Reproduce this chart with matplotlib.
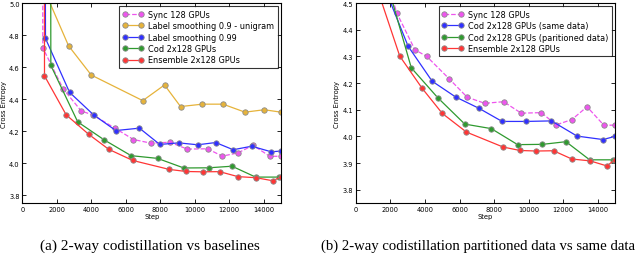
import matplotlib
matplotlib.use("Agg")
import matplotlib.pyplot as plt

# series (first point of each is the off-chart start)
sync_steps = [1150, 1184, 2368, 3417, 4100, 5400, 6440, 7460, 8550, 9570, 10740, 11590, 12500, 13380, 14350, 15000]
sync_ce = [7.0, 4.72, 4.463, 4.325, 4.300, 4.216, 4.147, 4.124, 4.130, 4.087, 4.089, 4.043, 4.063, 4.111, 4.042, 4.042]

ls99_steps = [1300, 1339, 2735, 4130, 5420, 6790, 7971, 9060, 10170, 11212, 12230, 13300, 14440, 15000]
ls99_ce = [7.0, 4.779, 4.442, 4.301, 4.203, 4.218, 4.116, 4.126, 4.114, 4.128, 4.083, 4.105, 4.070, 4.075]

uni_steps = [1200, 2677, 3996, 6983, 8244, 9175, 10438, 11637, 12910, 14030, 15000]
uni_ce = [5.1, 4.733, 4.550, 4.390, 4.488, 4.353, 4.368, 4.368, 4.318, 4.333, 4.318]

cod_steps = [1620, 1650, 3210, 4740, 6305, 7840, 9360, 10800, 12160, 13530, 14900]
cod_ce = [7.0, 4.61, 4.257, 4.145, 4.046, 4.029, 3.969, 3.970, 3.980, 3.912, 3.912]

ens_steps = [1270, 1282, 2541, 3840, 5004, 6401, 8520, 9500, 10450, 11440, 12500, 13560, 14530, 15000]
ens_ce = [7.0, 4.545, 4.301, 4.180, 4.086, 4.016, 3.960, 3.947, 3.945, 3.946, 3.915, 3.908, 3.889, 3.913]

same_steps = [1400, 3026, 4414, 5768, 7133, 8464, 9835, 11321, 12802, 14306, 15000]
same_ce = [4.6, 4.338, 4.207, 4.148, 4.105, 4.056, 4.056, 4.058, 4.001, 3.988, 4.000]

c_sync = '#ee55ee'
c_uni = '#e6b33a'
c_blue = '#3030ff'
c_green = '#2f9a2f'
c_red = '#ff3535'

mk = dict(marker='o', markersize=3.9, markeredgecolor='0.55', markeredgewidth=0.6, linewidth=0.9)

fig = plt.figure(figsize=(6.4, 2.55), dpi=100)
ax1 = fig.add_axes([0.035, 0.2, 0.404, 0.784])
ax2 = fig.add_axes([0.556, 0.2, 0.405, 0.784])

ax1.plot(sync_steps, sync_ce, '--', color=c_sync, markerfacecolor=c_sync, label='Sync 128 GPUs', **mk)
ax1.plot(uni_steps, uni_ce, '-', color=c_uni, markerfacecolor=c_uni, label='Label smoothing 0.9 - unigram', **mk)
ax1.plot(ls99_steps, ls99_ce, '-', color=c_blue, markerfacecolor=c_blue, label='Label smoothing 0.99', **mk)
ax1.plot(cod_steps, cod_ce, '-', color=c_green, markerfacecolor=c_green, label='Cod 2x128 GPUs', **mk)
ax1.plot(ens_steps, ens_ce, '-', color=c_red, markerfacecolor=c_red, label='Ensemble 2x128 GPUs', **mk)
ax1.set_ylim(3.75, 5.0)
ax1.set_yticks([3.8, 4.0, 4.2, 4.4, 4.6, 4.8, 5.0])

ax2.plot(sync_steps, sync_ce, '--', color=c_sync, markerfacecolor=c_sync, label='Sync 128 GPUs', **mk)
ax2.plot(same_steps, same_ce, '-', color=c_blue, markerfacecolor=c_blue, label='Cod 2x128 GPUs (same data)', **mk)
ax2.plot(cod_steps, cod_ce, '-', color=c_green, markerfacecolor=c_green, label='Cod 2x128 GPUs (paritioned data)', **mk)
ax2.plot(ens_steps, ens_ce, '-', color=c_red, markerfacecolor=c_red, label='Ensemble 2x128 GPUs', **mk)
ax2.set_ylim(3.75, 4.5)
ax2.set_yticks([3.8, 3.9, 4.0, 4.1, 4.2, 4.3, 4.4, 4.5])

for ax in (ax1, ax2):
    ax.set_xlim(0, 15000)
    ax.set_xticks(range(0, 15000, 2000))
    ax.tick_params(direction='in', top=True, right=True, labelsize=4.8, length=3, width=0.6, pad=2)
    for s in ax.spines.values():
        s.set_linewidth(0.8)
    ax.set_xlabel('Step', fontsize=4.9, labelpad=1)
    ax.set_ylabel('Cross Entropy', fontsize=4.9, labelpad=1.5)
    leg = ax.legend(loc='upper right', fontsize=5.9, numpoints=2, handlelength=2.6,
                    borderaxespad=0.4, fancybox=False, labelspacing=0.3, handletextpad=0.6)
    leg.get_frame().set_edgecolor('black')
    leg.get_frame().set_linewidth(0.8)

fig.text(0.234, 0.022, '(a) 2-way codistillation vs baselines', ha='center',
         fontsize=11, family='Liberation Serif')
fig.text(0.501, 0.022, '(b) 2-way codistillation partitioned data vs same data', ha='left',
         fontsize=10.6, family='Liberation Serif')

fig.savefig('out.png', dpi=100)
